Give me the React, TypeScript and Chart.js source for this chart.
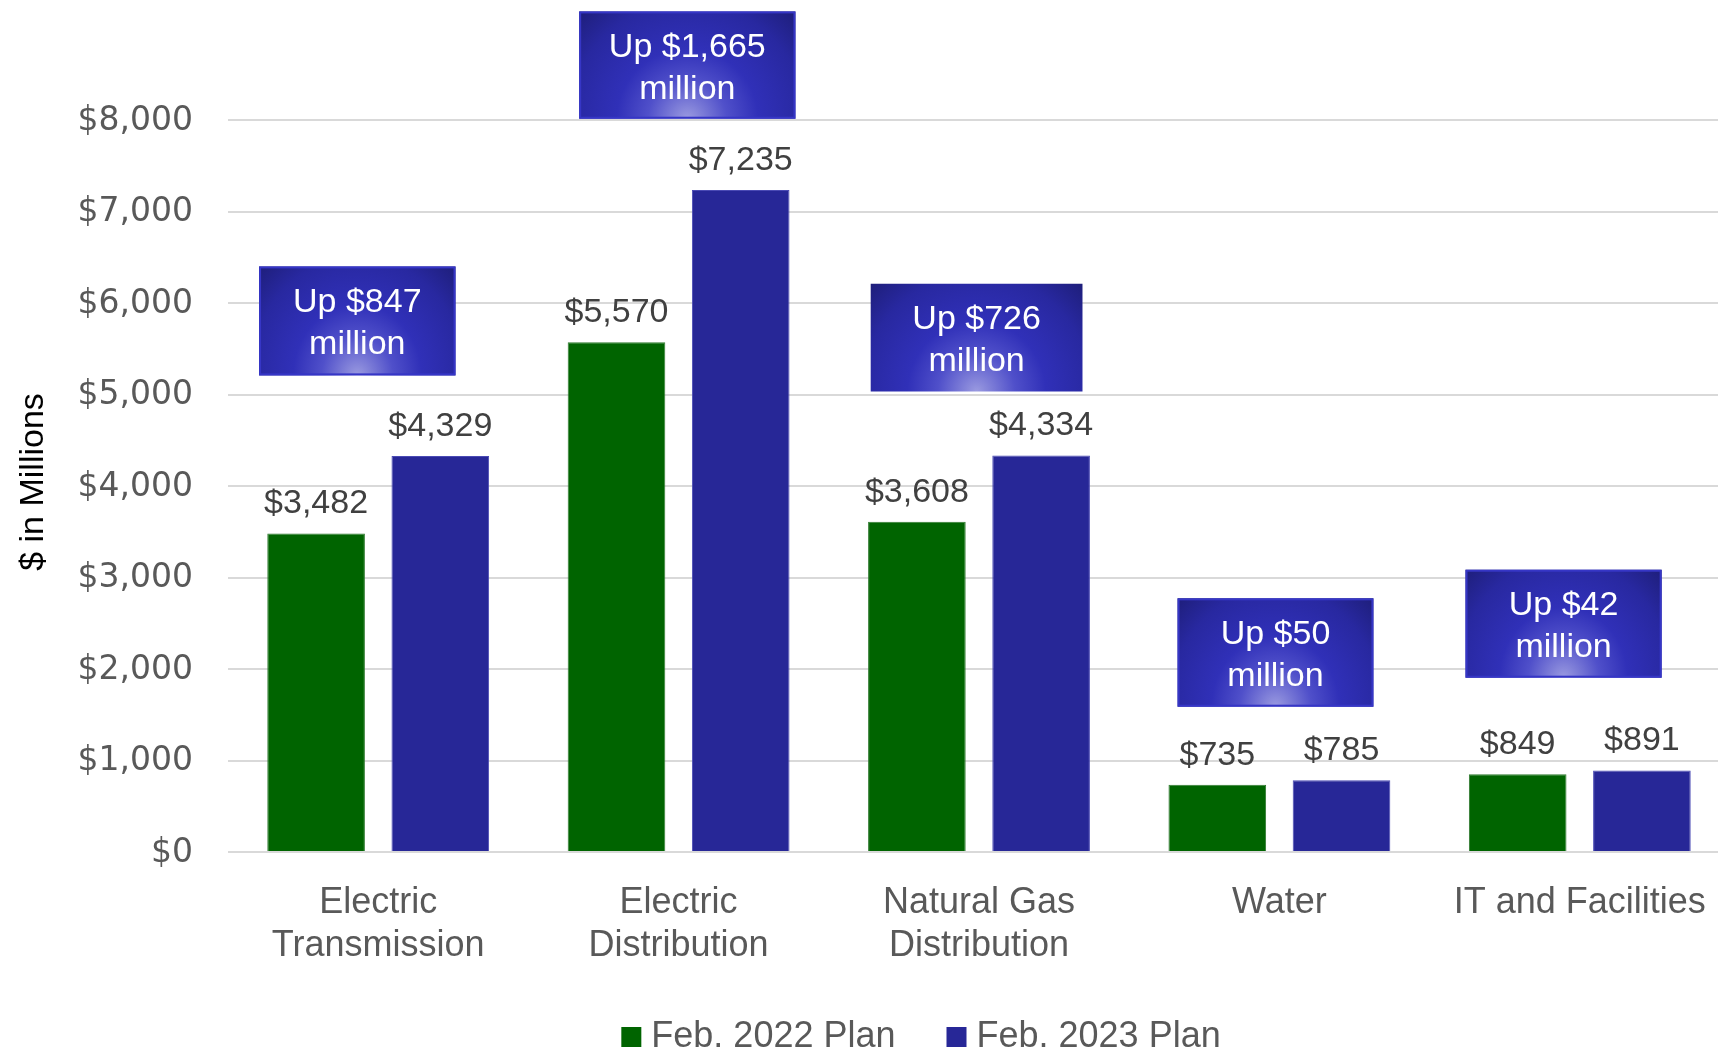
import React, { useEffect, useRef } from 'react';
import { Chart, registerables } from 'chart.js';

Chart.register(...registerables);

// ---------- data ----------
const categories: string[][] = [
  ['Electric', 'Transmission'],
  ['Electric', 'Distribution'],
  ['Natural Gas', 'Distribution'],
  ['Water'],
  ['IT and Facilities'],
];
const seriesNames = ['Feb. 2022 Plan', 'Feb. 2023 Plan'];
const plan2022 = [3482, 5570, 3608, 735, 849];
const plan2023 = [4329, 7235, 4334, 785, 891];
const yMin = 0;
const yMax = 8000;
const yStep = 1000;
const axisTitle = '$ in Millions';

// callout boxes ("Up $X million"), placed in data units
const boxTopValue = [6400, 9187, 6211, 2772, 3085];
const boxBottomValue = [5209, 8014, 5034, 1588, 1905];
const boxCenterOffset = [-0.0696, 0.029, -0.008, -0.013, -0.054]; // in category widths
const boxWidthFrac = [0.654, 0.72, 0.705, 0.652, 0.653]; // in category widths
const boxHasBorder = [true, true, false, true, true];

// ---------- styles ----------
const GREEN = '#006400';
const BLUE = '#272797';
const FONT = '"Liberation Sans", Arial, sans-serif';

const fmt = (v: number) => '$' + v.toLocaleString('en-US');

const overlayPlugin = {
  id: 'overlay',
  afterDraw(chart: any) {
    const ctx: CanvasRenderingContext2D = chart.ctx;
    const x = chart.scales.x;
    const y = chart.scales.y;

    // y tick labels
    ctx.save();
    ctx.font = '33px "DejaVu Sans"';
    ctx.fillStyle = '#595959';
    ctx.textAlign = 'right';
    ctx.textBaseline = 'middle';
    y.ticks.forEach((t: any) => {
      ctx.fillText(fmt(t.value), y.right - 35, y.getPixelForValue(t.value) + 1);
    });
    ctx.restore();

    // y axis title
    ctx.save();
    ctx.translate(43, (y.top + y.bottom) / 2 - 4);
    ctx.rotate(-Math.PI / 2);
    ctx.font = `34px ${FONT}`;
    ctx.fillStyle = '#000000';
    ctx.textAlign = 'center';
    ctx.textBaseline = 'alphabetic';
    ctx.fillText(axisTitle, 0, 0);
    ctx.restore();

    // data labels
    ctx.save();
    ctx.font = `34px ${FONT}`;
    ctx.fillStyle = '#404040';
    ctx.textAlign = 'center';
    ctx.textBaseline = 'alphabetic';
    chart.data.datasets.forEach((ds: any, di: number) => {
      const meta = chart.getDatasetMeta(di);
      meta.data.forEach((bar: any, i: number) => {
        ctx.fillText(fmt(ds.data[i]), bar.x, bar.y - 20);
      });
    });
    ctx.restore();

    // callout boxes
    const catW = x.width / categories.length;
    plan2022.forEach((v, i) => {
      const diff = plan2023[i] - v;
      const cx = x.getPixelForValue(i) + boxCenterOffset[i] * catW;
      const w = boxWidthFrac[i] * catW;
      const top = y.getPixelForValue(boxTopValue[i]);
      const bottom = y.getPixelForValue(boxBottomValue[i]);
      const h = bottom - top;
      const left = cx - w / 2;

      ctx.save();
      ctx.beginPath();
      ctx.rect(left, top, w, h);
      ctx.clip();
      ctx.translate(cx, bottom);
      ctx.scale(w / 2, h);
      const g = ctx.createRadialGradient(0, 0, 0, 0, 0, 1.45);
      g.addColorStop(0, '#9a9ae0');
      g.addColorStop(0.25, '#5050ca');
      g.addColorStop(0.45, '#3030b8');
      g.addColorStop(0.75, '#2828a0');
      g.addColorStop(1, '#1d1d76');
      ctx.fillStyle = g;
      ctx.fillRect(-1.1, -1.1, 2.2, 1.2);
      ctx.restore();

      if (boxHasBorder[i]) {
        ctx.save();
        ctx.strokeStyle = '#3636c6';
        ctx.lineWidth = 2;
        ctx.strokeRect(left + 1, top + 1, w - 2, h - 2);
        ctx.restore();
      }

      ctx.save();
      ctx.font = `34px ${FONT}`;
      ctx.fillStyle = '#ffffff';
      ctx.textAlign = 'center';
      ctx.textBaseline = 'alphabetic';
      const mid = (top + bottom) / 2;
      const lines = ['Up ' + fmt(diff), 'million'];
      const lh = 42;
      lines.forEach((ln, k) => {
        ctx.fillText(ln, cx, mid + 12.5 + (k - 0.5) * lh);
      });
      ctx.restore();
    });

    // legend
    ctx.save();
    ctx.font = `36px ${FONT}`;
    ctx.textBaseline = 'alphabetic';
    ctx.textAlign = 'left';
    const sq = 20;
    const gapIn = 10;
    const gapOut = 51;
    const widths = chart.data.datasets.map((ds: any) => ctx.measureText(ds.label).width);
    const total =
      widths.reduce((a: number, b: number) => a + b, 0) +
      chart.data.datasets.length * (sq + gapIn) +
      (chart.data.datasets.length - 1) * gapOut;
    let lx = 921 - total / 2;
    const baseY = 1047;
    chart.data.datasets.forEach((ds: any, di: number) => {
      ctx.fillStyle = ds.backgroundColor;
      ctx.fillRect(lx, baseY - 20, sq, 20);
      lx += sq + gapIn;
      ctx.fillStyle = '#595959';
      ctx.fillText(ds.label, lx, baseY);
      lx += widths[di] + gapOut;
    });
    ctx.restore();
  },
};

export default function App() {
  const ref = useRef<HTMLCanvasElement | null>(null);

  useEffect(() => {
    document.body.style.margin = '0';
    const canvas = ref.current;
    if (!canvas) return;
    const chart = new Chart(canvas, {
      type: 'bar',
      data: {
        labels: categories,
        datasets: [
          {
            label: seriesNames[0],
            data: plan2022,
            backgroundColor: GREEN,
            borderColor: '#2f7a2f',
            borderWidth: 1,
            categoryPercentage: 0.827,
            barPercentage: 0.786,
          },
          {
            label: seriesNames[1],
            data: plan2023,
            backgroundColor: BLUE,
            borderColor: '#4a4ab4',
            borderWidth: 1,
            categoryPercentage: 0.827,
            barPercentage: 0.786,
          },
        ],
      },
      options: {
        responsive: false,
        animation: false,
        layout: { padding: { top: 120, left: 0, right: 0, bottom: 0 } },
        plugins: {
          legend: { display: false },
          tooltip: { enabled: false },
          title: { display: false },
        },
        scales: {
          x: {
            grid: { display: false },
            border: { display: false },
            ticks: {
              autoSkip: false,
              maxRotation: 0,
              minRotation: 0,
              padding: 21,
              color: '#595959',
              font: { family: FONT, size: 36, lineHeight: 1.2 },
            },
            afterFit: (s: any) => {
              s.height = 199;
            },
          },
          y: {
            min: yMin,
            max: yMax,
            ticks: { stepSize: yStep, display: false },
            grid: { color: '#d9d9d9', lineWidth: 2, drawTicks: false },
            border: { display: false },
            afterFit: (s: any) => {
              s.width = 228;
            },
          },
        },
      },
      plugins: [overlayPlugin],
    });
    return () => chart.destroy();
  }, []);

  return (
    <div style={{ width: 1718, height: 1051, overflow: 'hidden', position: 'relative' }}>
      <canvas ref={ref} width={1730} height={1051} style={{ display: 'block' }} />
    </div>
  );
}
